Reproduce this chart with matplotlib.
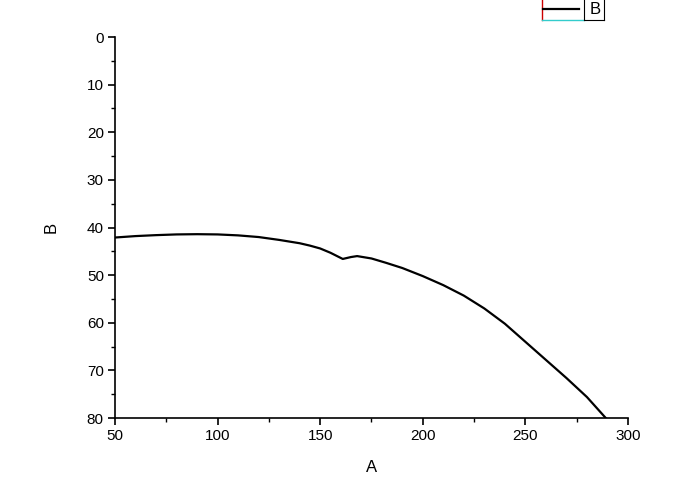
import matplotlib
matplotlib.use('Agg')
import matplotlib.pyplot as plt
from matplotlib.lines import Line2D
from matplotlib.ticker import MultipleLocator

plt.rcParams['font.family'] = ['Liberation Sans', 'DejaVu Sans']

# curve
A = [50, 60, 70, 80, 90, 100, 110, 120, 130, 140, 145, 150, 155, 161, 165, 168,
     175, 182, 190, 200, 210, 220, 230, 240, 250, 260, 270, 280, 290]
B = [42.1, 41.8, 41.6, 41.45, 41.4, 41.45, 41.65, 42.0, 42.6, 43.3, 43.8, 44.4,
     45.3, 46.6, 46.2, 46.0, 46.5, 47.4, 48.5, 50.2, 52.1, 54.3, 57.0, 60.2,
     64.0, 67.8, 71.6, 75.6, 80.4]

fig = plt.figure(figsize=(6.99, 4.93), dpi=100)
ax = fig.add_axes([0.1645, 0.1521, 0.7339, 0.7728])

line, = ax.plot(A, B, color='black', lw=1.6, label='B')

ax.set_xlim(50, 300)
ax.set_ylim(80, 0)
ax.xaxis.set_major_locator(MultipleLocator(50))
ax.xaxis.set_minor_locator(MultipleLocator(25))
ax.yaxis.set_major_locator(MultipleLocator(10))
ax.yaxis.set_minor_locator(MultipleLocator(5))

for s in ['top', 'right']:
    ax.spines[s].set_visible(False)
for s in ['left', 'bottom']:
    ax.spines[s].set_linewidth(1.2)
    ax.spines[s].set_color('black')

ax.tick_params(which='major', direction='out', length=5, width=1.2, labelsize=11, pad=3)
ax.tick_params(which='minor', direction='out', length=3, width=1.0)

ax.set_xlabel('A', fontsize=12, labelpad=12)
ax.set_ylabel('B', fontsize=12, labelpad=20)

# legend, partly cut off at the top as in the reference
leg = fig.legend(handles=[line], loc='center left', frameon=False,
                 bbox_to_anchor=(531 / 699, 1 - 10 / 493), handlelength=2.2,
                 handletextpad=0.6, fontsize=12, borderpad=0.2)

W, H = 699, 493
def fl(x0, y0, x1, y1, c, lw=1.0):
    fig.add_artist(Line2D([x0 / W, x1 / W], [1 - y0 / H, 1 - y1 / H],
                          transform=fig.transFigure, color=c, lw=lw))

fl(541.5, 0, 541.5, 20, '#cc0000')
fl(541.5, 20, 584, 20, '#33cccc')
fl(584, 0, 584, 20, 'black', 0.8)
fl(584, 20, 604, 20, 'black', 0.8)
fl(604, 0, 604, 20, 'black', 0.8)

fig.savefig('out.png', dpi=100)
